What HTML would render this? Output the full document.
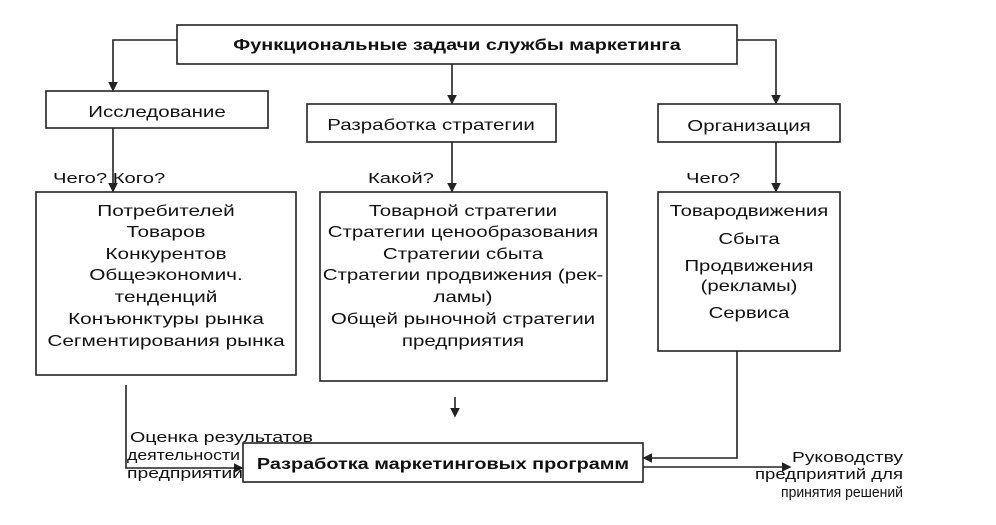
<!DOCTYPE html>
<html><head><meta charset="utf-8"><style>body{margin:0;background:#fff}</style></head><body>
<svg width="996" height="520" viewBox="0 0 996 520" xmlns="http://www.w3.org/2000/svg" font-family="Liberation Sans, sans-serif" fill="#111">
<defs><marker id="a" markerWidth="6" markerHeight="6" refX="5" refY="3" orient="auto"><path d="M0,0 L6,3 L0,6 z" fill="#222"/></marker></defs>
<g stroke="#222" stroke-width="1.6" fill="none">
<rect x="177" y="25" width="560" height="39" fill="#fff"/>
<rect x="46" y="91" width="222" height="37"/>
<rect x="307" y="104" width="249" height="38"/>
<rect x="658" y="104" width="182" height="38"/>
<rect x="36" y="192" width="260" height="183"/>
<rect x="320" y="192" width="287" height="189"/>
<rect x="658" y="192" width="182" height="159"/>
<rect x="243" y="443" width="400" height="39"/>
<polyline points="177,40 113,40 113,90" marker-end="url(#a)"/>
<polyline points="737,40 776,40 776,103" marker-end="url(#a)"/>
<line x1="452" y1="64" x2="452" y2="103" marker-end="url(#a)"/>
<line x1="113" y1="128" x2="113" y2="191" marker-end="url(#a)"/>
<line x1="452" y1="142" x2="452" y2="191" marker-end="url(#a)"/>
<line x1="776" y1="142" x2="776" y2="191" marker-end="url(#a)"/>
<line x1="455" y1="397" x2="455" y2="416" marker-end="url(#a)"/>
<polyline points="126,385 126,468 242,468" marker-end="url(#a)"/>
<polyline points="737,351 737,458 644,458" marker-end="url(#a)"/>
<line x1="643" y1="467" x2="790" y2="467" marker-end="url(#a)"/>
</g>
<g font-size="16" text-anchor="middle">
<text transform="translate(457,50) scale(1.28,1)" font-weight="bold" font-size="15.5">Функциональные задачи службы маркетинга</text>
<text transform="translate(157,117) scale(1.28,1)">Исследование</text>
<text transform="translate(431,130) scale(1.28,1)">Разработка стратегии</text>
<text transform="translate(749,131) scale(1.28,1)">Организация</text>
<g transform="translate(166,0) scale(1.3,1)">
<text y="216">Потребителей</text>
<text y="237">Товаров</text>
<text y="259">Конкурентов</text>
<text y="280">Общеэкономич.</text>
<text y="302">тенденций</text>
<text y="324">Конъюнктуры рынка</text>
<text y="346">Сегментирования рынка</text>
</g>
<g transform="translate(463,0) scale(1.28,1)">
<text y="216">Товарной стратегии</text>
<text y="237">Стратегии ценообразования</text>
<text y="259">Стратегии сбыта</text>
<text y="280">Стратегии продвижения (рек-</text>
<text y="302">ламы)</text>
<text y="324">Общей рыночной стратегии</text>
<text y="346">предприятия</text>
</g>
<g transform="translate(749,0) scale(1.27,1)">
<text y="216">Товародвижения</text>
<text y="244">Сбыта</text>
<text y="271">Продвижения</text>
<text y="291">(рекламы)</text>
<text y="318">Сервиса</text>
</g>
<text transform="translate(443,469) scale(1.24,1)" font-weight="bold">Разработка маркетинговых программ</text>
</g>
<g font-size="15">
<text transform="translate(53,183) scale(1.35,1)">Чего? Кого?</text>
<text transform="translate(368,183) scale(1.35,1)">Какой?</text>
<text transform="translate(686,183) scale(1.35,1)">Чего?</text>
<text x="130" y="442" textLength="183" lengthAdjust="spacingAndGlyphs">Оценка результатов</text>
<text x="127" y="460" textLength="113" lengthAdjust="spacingAndGlyphs">деятельности</text>
<text x="127" y="478" textLength="116" lengthAdjust="spacingAndGlyphs">предприятий</text>
<text x="792" y="462" textLength="111" lengthAdjust="spacingAndGlyphs">Руководству</text>
<text x="755" y="479" textLength="148" lengthAdjust="spacingAndGlyphs">предприятий для</text>
<text x="781" y="497" textLength="122" lengthAdjust="spacingAndGlyphs">принятия решений</text>
</g>
</svg>
</body></html>
